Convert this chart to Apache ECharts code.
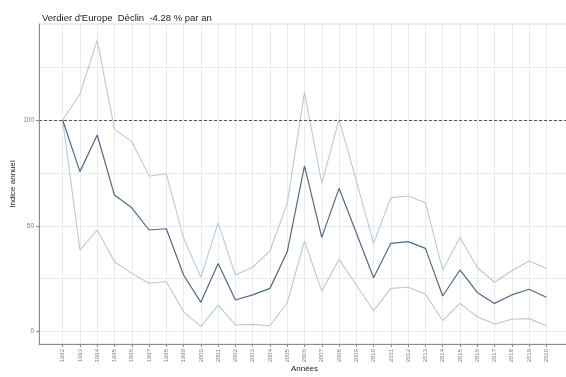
<!DOCTYPE html>
<html>
<head>
<meta charset="utf-8">
<script src="https://cdn.jsdelivr.net/npm/echarts@6/dist/echarts.min.js"></script>
<style>
  html, body { margin: 0; padding: 0; background: #ffffff; }
  #chart { width: 566px; height: 377px; }
</style>
</head>
<body>
<div id="chart"></div>
<script>
// Annual index of the European Greenfinch, 1992 = 100
const years = [1992, 1993, 1994, 1995, 1996, 1997, 1998, 1999, 2000, 2001,
  2002, 2003, 2004, 2005, 2006, 2007, 2008, 2009, 2010, 2011,
  2012, 2013, 2014, 2015, 2016, 2017, 2018, 2019, 2020];

const indexValues = [100, 75.6, 92.9, 64.5, 58.5, 48.0, 48.6, 26.7, 13.8, 32.2,
  14.9, 17.3, 20.4, 37.7, 78.3, 44.5, 67.7, 46.6, 25.4, 41.7,
  42.5, 39.3, 16.8, 29.1, 18.5, 13.3, 17.3, 20.0, 16.2];

const upperBound = [100, 112.3, 137.8, 95.6, 89.8, 73.5, 74.5, 44.2, 25.6, 51.4,
  26.7, 30.4, 38.1, 60.6, 113.1, 70.1, 100.3, 71.2, 41.7, 63.3,
  64.1, 60.9, 29.1, 44.5, 30.4, 23.3, 28.7, 33.3, 29.9];

const lowerBound = [100, 38.5, 48.0, 33.0, 27.5, 22.8, 23.5, 9.4, 2.3, 12.5,
  3.1, 3.4, 2.7, 13.6, 42.8, 19.1, 34.1, 22.0, 9.8, 20.4,
  20.9, 17.7, 5.1, 13.3, 7.0, 3.5, 5.8, 6.1, 2.7];

const yTickLabels = [0, 50, 100];
const yGridValues = [0, 25, 50, 75, 100, 125];
const referenceLevel = 100;

const titleText = "Verdier d'Europe  Déclin  -4.28 % par an";

const pairs = (vals) => years.map((y, i) => [y, vals[i]]);

const xMin = 1990.63, xMax = 2021.37;
const yMin = -5.9, yMax = 145.4;

const chart = echarts.init(document.getElementById('chart'), null, { renderer: 'canvas' });

const fontFamily = 'Liberation Sans, Arial, sans-serif';
const gridColor = '#ebebef';

chart.setOption({
  animation: false,
  backgroundColor: '#ffffff',
  title: {
    text: titleText,
    left: 37,
    top: 8,
    textStyle: { fontFamily, fontSize: 9.5, fontWeight: 'normal', color: '#1a1a1a' }
  },
  grid: {
    left: 39,
    top: 24,
    width: 531,
    height: 320,
    outerBoundsMode: 'none',
    containLabel: false,
    show: true,
    borderColor: '#d9d9d9',
    borderWidth: 1
  },
  xAxis: [
    {
      type: 'value',
      min: xMin,
      max: xMax,
      name: 'Années',
      nameLocation: 'middle',
      nameGap: 21,
      nameMoveOverlap: false,
      nameTextStyle: { fontFamily, fontSize: 8, color: '#1a1a1a' },
      axisLine: { show: true, onZero: false, lineStyle: { color: '#8c8c8c', width: 1 } },
      axisTick: { show: true, length: 3, customValues: years, lineStyle: { color: '#8c8c8c' } },
      axisLabel: {
        customValues: years,
        formatter: (v) => String(Math.round(v)),
        rotate: 90,
        margin: 5,
        fontFamily,
        fontSize: 6,
        color: '#7f7f7f'
      },
      splitLine: { show: false },
      z: 5
    },
    {
      type: 'value',
      min: xMin,
      max: xMax,
      position: 'bottom',
      axisLine: { show: false },
      axisTick: { show: false, customValues: years },
      axisLabel: { show: false, customValues: years },
      splitLine: { show: true, lineStyle: { color: gridColor, width: 1 } }
    }
  ],
  yAxis: [
    {
      type: 'value',
      min: yMin,
      max: yMax,
      name: 'Indice annuel',
      nameLocation: 'middle',
      nameGap: 22,
      nameMoveOverlap: false,
      nameTextStyle: { fontFamily, fontSize: 8, color: '#1a1a1a' },
      axisLine: { show: true, lineStyle: { color: '#8c8c8c', width: 1 } },
      axisTick: { show: true, length: 3, customValues: yTickLabels, lineStyle: { color: '#8c8c8c' } },
      axisLabel: { customValues: yTickLabels, margin: 5, fontFamily, fontSize: 6.5, color: '#7f7f7f' },
      splitLine: { show: false },
      z: 5
    },
    {
      type: 'value',
      min: yMin,
      max: yMax,
      position: 'left',
      axisLine: { show: false },
      axisTick: { show: false, customValues: yGridValues },
      axisLabel: { show: false, customValues: yGridValues },
      splitLine: { show: true, lineStyle: { color: gridColor, width: 1 } }
    }
  ],
  series: [
    {
      type: 'line',
      data: pairs(upperBound),
      symbol: 'none',
      lineStyle: { color: '#b7cadc', width: 1.1 },
      z: 2
    },
    {
      type: 'line',
      data: pairs(lowerBound),
      symbol: 'none',
      lineStyle: { color: '#b7cadc', width: 1.1 },
      z: 2
    },
    {
      type: 'line',
      data: pairs(indexValues),
      symbol: 'none',
      lineStyle: { color: '#4e6a88', width: 1.2 },
      z: 3,
      markLine: {
        silent: true,
        symbol: ['none', 'none'],
        label: { show: false },
        lineStyle: { color: '#333333', type: [3, 2], width: 0.8 },
        data: [{ yAxis: referenceLevel }]
      }
    }
  ]
});
</script>
</body>
</html>
